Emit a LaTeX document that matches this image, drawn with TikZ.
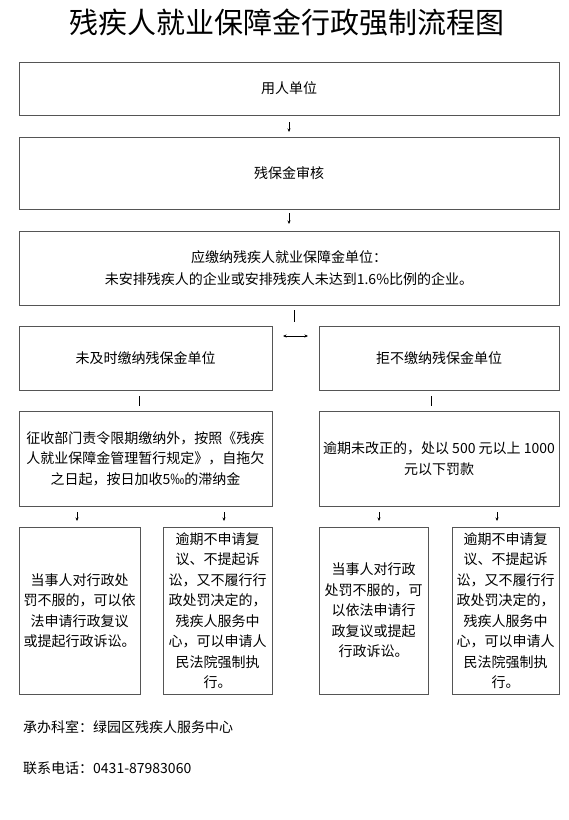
\documentclass[tikz,border=0pt]{standalone}
\usepackage{fontspec}
\setmainfont{Noto Sans CJK SC}
\usetikzlibrary{positioning, arrows.meta}
\definecolor{frame}{RGB}{85, 85, 85}

\begin{document}
\begin{tikzpicture}[
                x=1pt, y=-1pt,
                box/.style={rectangle, draw=frame, line width=0.8pt,
                    align=center, inner sep=2pt, outer sep=0pt,
                    font=\fontsize{14}{20.5}\selectfont},
                line/.style={-{Stealth[length=3.5pt, width=3pt]}, line width=0.6pt},
                link/.style={line width=0.6pt}
                ]
                \useasboundingbox (0,0) rectangle (569,820);
                \node[font=\fontsize{29}{32}\selectfont] (title) at (287,22) {残疾人就业保障金行政强制流程图};
                \node[box, minimum width=540pt, minimum height=53pt, anchor=north west] (user) at (19,62) {用人单位};
                \node[box, minimum width=540pt, minimum height=72pt, below=22pt of user] (audit) {残保金审核};
                \node[box, minimum width=540pt, minimum height=74pt, below=22pt of audit] (payer)
                    {应缴纳残疾人就业保障金单位：\\[2pt]未安排残疾人的企业或安排残疾人未达到1.6\%比例的企业。};
                \node[box, minimum width=253pt, minimum height=64pt,
                    below=21pt of payer.south west, anchor=north west] (late) {未及时缴纳残保金单位};
                \node[box, minimum width=240pt, minimum height=64pt,
                    below=21pt of payer.south east, anchor=north east] (refuse) {拒不缴纳残保金单位};
                \node[box, minimum width=253pt, minimum height=95pt, below=21pt of late] (surcharge)
                    {征收部门责令限期缴纳外，按照《残疾\\人就业保障金管理暂行规定》，自拖欠\\之日起，按日加收5‰的滞纳金};
                \node[box, minimum width=240pt, minimum height=95pt, below=21pt of refuse] (fine)
                    {逾期未改正的，处以 500 元以上 1000\\元以下罚款};
                % lower row
                \node[box, minimum width=121pt, minimum height=167pt,
                    below=21pt of surcharge.south west, anchor=north west] (appeal1)
                    {当事人对行政处\\罚不服的，可以依\\法申请行政复议\\或提起行政诉讼。};
                \node[box, minimum width=109pt, minimum height=167pt,
                    below=21pt of surcharge.south east, anchor=north east] (enforce1)
                    {逾期不申请复\\议、不提起诉\\讼，又不履行行\\政处罚决定的，\\残疾人服务中\\心，可以申请人\\民法院强制执\\行。};
                \node[box, minimum width=109pt, minimum height=167pt,
                    below=21pt of fine.south west, anchor=north west] (appeal2)
                    {当事人对行政\\处罚不服的，可\\以依法申请行\\政复议或提起\\行政诉讼。};
                \node[box, minimum width=107pt, minimum height=167pt,
                    below=21pt of fine.south east, anchor=north east] (enforce2)
                    {逾期不申请复\\议、不提起诉\\讼，又不履行行\\政处罚决定的，\\残疾人服务中\\心，可以申请人\\民法院强制执\\行。};
                \node[anchor=west, inner sep=0pt, font=\fontsize{14}{16}\selectfont] (dept) at (23,727)
                    {承办科室：绿园区残疾人服务中心};
                \node[anchor=west, inner sep=0pt, font=\fontsize{14}{16}\selectfont] (phone) at (23,768)
                    {联系电话：0431-87983060};
                \draw[line, shorten <=7pt, shorten >=5pt] (user) -- (audit);
                \draw[line, shorten <=4pt, shorten >=7pt] (audit) -- (payer);
                \draw[link, shorten <=5pt, shorten >=4pt] ([xshift=5pt]payer.south) -- ([xshift=5pt]payer.south |- late.north);
                \draw[line, {Stealth[length=3.5pt, width=3pt]}-{Stealth[length=3.5pt, width=3pt]},
                    shorten <=11pt, shorten >=11pt] ([yshift=-10pt]late.north east) -- ([yshift=-10pt]refuse.north west);
                \draw[link, shorten <=6pt, shorten >=5pt] ([xshift=-6.5pt]late.south) -- ([xshift=-6.5pt]surcharge.north);
                \draw[link, shorten <=6pt, shorten >=5pt] ([xshift=-8pt]refuse.south) -- ([xshift=-8pt]fine.north);
                \draw[line, shorten <=6pt, shorten >=6pt] ([xshift=-2.5pt]appeal1.north |- surcharge.south) -- ([xshift=-2.5pt]appeal1.north);
                \draw[line, shorten <=6pt, shorten >=6pt] ([xshift=6.5pt]enforce1.north |- surcharge.south) -- ([xshift=6.5pt]enforce1.north);
                \draw[line, shorten <=6pt, shorten >=6pt] ([xshift=5.5pt]appeal2.north |- fine.south) -- ([xshift=5.5pt]appeal2.north);
                \draw[line, shorten <=6pt, shorten >=6pt] ([xshift=-8.5pt]enforce2.north |- fine.south) -- ([xshift=-8.5pt]enforce2.north);
            \end{tikzpicture}
\end{document}
